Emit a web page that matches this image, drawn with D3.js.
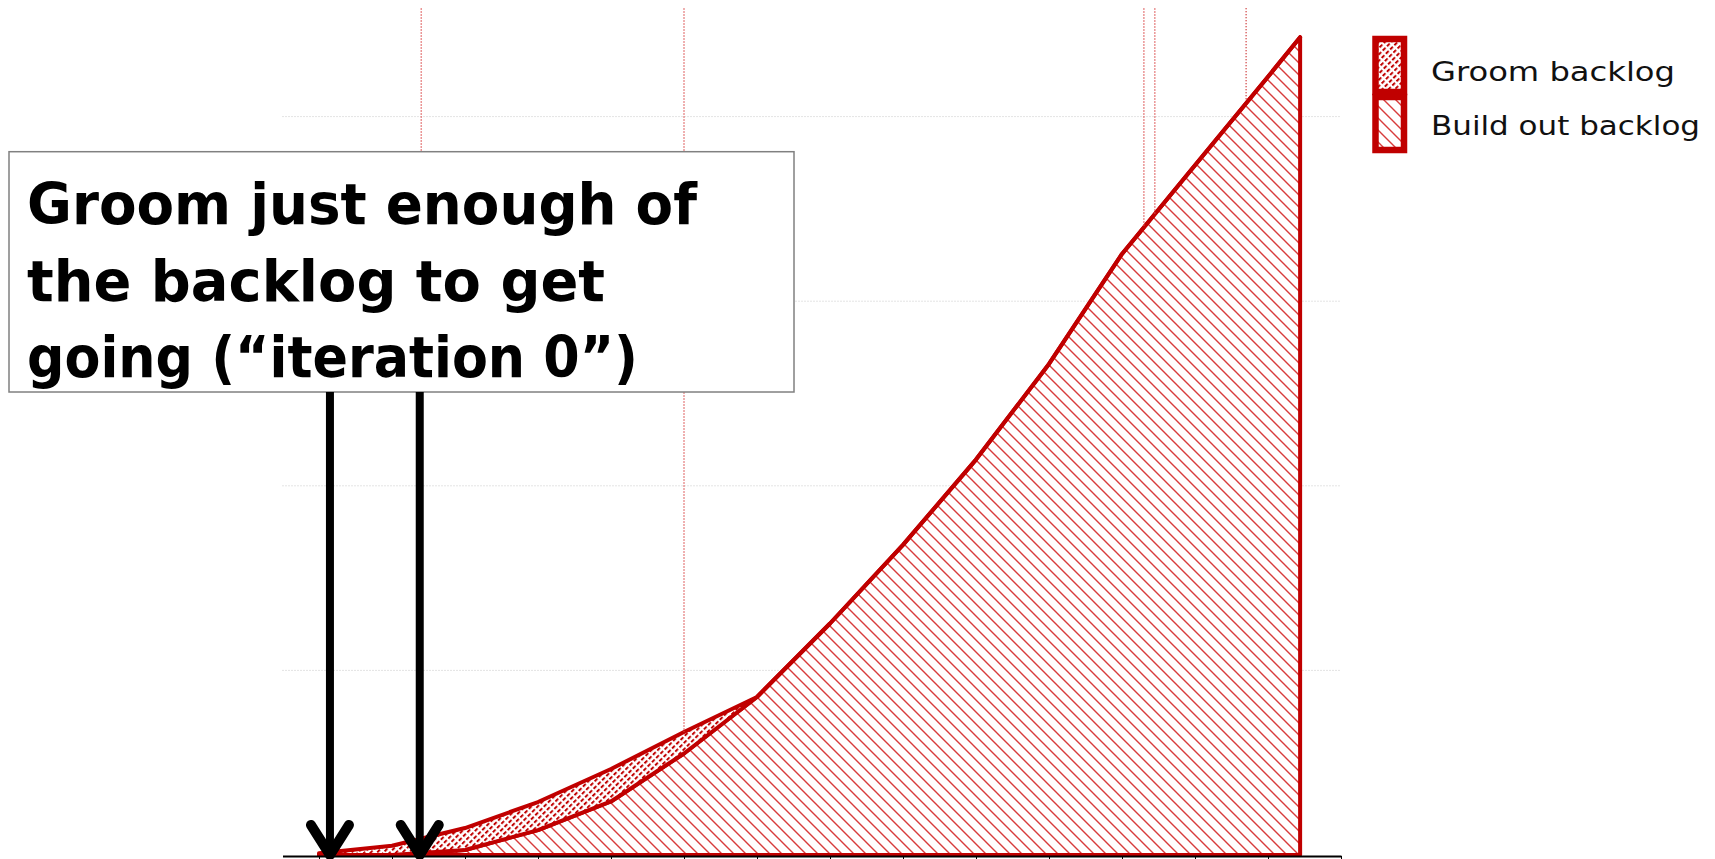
<!DOCTYPE html>
<html>
<head>
<meta charset="utf-8">
<script src="https://cdn.jsdelivr.net/npm/d3@7"></script>
<style>
body { margin: 0; background: #fff; }
svg { display: block; }
</style>
</head>
<body>
<svg width="1715" height="859"></svg>
<script>
// iteration of each point (the last one is a part iteration)
var iterations = [0, 1, 2, 3, 4, 5, 6, 7, 8, 9, 10, 11, 12, 13, 13.44];
var buildOut = [0, 0, 2.7, 13.5, 29, 55, 85.6, 125.4, 168, 214.2, 266, 325.6, 373.6, 421.6, 443];
var groom = [1, 5, 11.9, 15.2, 17.6, 11.6, 0, 0, 0, 0, 0, 0, 0, 0, 0];
var seriesNames = ["Groom backlog", "Build out backlog"];
var gridValues = [100, 200, 300, 400];
var tickIterations = [0, 1, 2, 3, 4, 5, 6, 7, 8, 9, 10, 11, 12, 13, 14];
var markerIterations = [1.4, 5, 11.3, 11.45, 12.7];
var markerTop = 458.7;
var arrowIterations = [0.15, 1.38];
var noteLines = ["Groom just enough of", "the backlog to get", "going (\u201citeration 0\u201d)"];

function main() {
    var svg = d3.select("svg");
    var red = "#c00000";

    var x = d3.scaleLinear().domain([-0.5, 14]).range([282.5, 1341]);
    var y = d3.scaleLinear().domain([0, 500]).range([855, -68]);

    var data = iterations.map(function(it, i) {
        return { it: it, build: buildOut[i], groom: groom[i] };
    });

    // patterns
    var defs = svg.append("defs");
    var pBuild = defs.append("pattern")
        .attr("id", "buildPat")
        .attr("patternUnits", "userSpaceOnUse")
        .attr("width", 12).attr("height", 12);
    pBuild.append("rect").attr("width", 12).attr("height", 12).attr("fill", "#fff");
    pBuild.append("path")
        .attr("d", "M0,0L12,12M-1,11L1,13M11,-1L13,1")
        .attr("stroke", "#d83c3c")
        .attr("stroke-width", 1.4);

    var pGroom = defs.append("pattern")
        .attr("id", "groomPat")
        .attr("patternUnits", "userSpaceOnUse")
        .attr("width", 6).attr("height", 4.5)
        .attr("patternTransform", "rotate(-45)");
    pGroom.append("rect").attr("width", 6).attr("height", 4.5).attr("fill", "#fff");
    pGroom.append("rect").attr("width", 3.8).attr("height", 2).attr("fill", red);

    // gridlines
    svg.append("g").selectAll("line")
        .data(gridValues)
        .enter().append("line")
        .attr("x1", x(-0.5)).attr("x2", x(14))
        .attr("y1", function(d) { return y(d); })
        .attr("y2", function(d) { return y(d); })
        .attr("stroke", "#c8c8c8")
        .attr("stroke-dasharray", "1,2");

    // stacked areas
    var stack = d3.stack().keys(["build", "groom"]);
    var layers = stack(data);
    var area = d3.area()
        .x(function(d) { return x(d.data.it); })
        .y0(function(d) { return y(d[0]); })
        .y1(function(d) { return y(d[1]); });

    svg.append("g").selectAll("path")
        .data(layers)
        .enter().append("path")
        .attr("d", area)
        .attr("fill", function(d) { return d.key == "build" ? "url(#buildPat)" : "url(#groomPat)"; })
        .attr("stroke", red)
        .attr("stroke-width", 4)
        .attr("stroke-linejoin", "round");

    // dotted markers from the top down to the curve
    var totals = data.map(function(d) { return d.build + d.groom; });
    function curveAt(v) {
        var i = d3.bisectRight(iterations, v) - 1;
        var t = (v - iterations[i]) / (iterations[i + 1] - iterations[i]);
        return totals[i] + t * (totals[i + 1] - totals[i]);
    }
    svg.append("g").selectAll("line")
        .data(markerIterations)
        .enter().append("line")
        .attr("x1", function(d) { return x(d); })
        .attr("x2", function(d) { return x(d); })
        .attr("y1", y(markerTop))
        .attr("y2", function(d) { return y(curveAt(d)); })
        .attr("stroke", function(d, i) { return i == 4 ? red : "#dc5050"; })
        .attr("stroke-width", 1.2)
        .attr("stroke-dasharray", function(d, i) { return i == 4 ? "1,2" : "1.5,1.5"; });

    // x axis
    var xAxis = svg.append("g")
        .attr("transform", "translate(0,856)")
        .call(d3.axisBottom(x).tickValues(tickIterations).tickFormat("").tickSize(5).tickSizeOuter(0));
    xAxis.select(".domain").attr("stroke", "#000").attr("stroke-width", 2);
    xAxis.selectAll(".tick line").attr("stroke", "#000");

    // note box
    var box = svg.append("g");
    box.append("rect")
        .attr("x", 9).attr("y", 151.7)
        .attr("width", 785).attr("height", 240.3)
        .attr("fill", "#fff")
        .attr("stroke", "#808080")
        .attr("stroke-width", 1.5);
    var lineWidths = [670, 578, 611];
    box.selectAll("text")
        .data(noteLines)
        .enter().append("text")
        .attr("x", 27)
        .attr("y", function(d, i) { return 224 + i * 76.5; })
        .attr("font-family", "DejaVu Sans")
        .attr("font-weight", "bold")
        .attr("font-size", "57px")
        .attr("textLength", function(d, i) { return lineWidths[i]; })
        .attr("lengthAdjust", "spacingAndGlyphs")
        .text(function(d) { return d; });

    // arrows
    var arrows = svg.append("g")
        .attr("stroke", "#000")
        .attr("fill", "none")
        .attr("stroke-linecap", "round")
        .attr("stroke-linejoin", "round");
    arrows.selectAll("line")
        .data(arrowIterations)
        .enter().append("line")
        .attr("x1", function(d) { return x(d); })
        .attr("x2", function(d) { return x(d); })
        .attr("y1", 392)
        .attr("y2", 855)
        .attr("stroke-width", 8)
        .attr("stroke-linecap", "butt");
    arrows.selectAll("path")
        .data(arrowIterations)
        .enter().append("path")
        .attr("stroke-width", 10)
        .attr("d", function(d) {
            var cx = x(d);
            return "M" + (cx - 19) + ",825L" + cx + ",855L" + (cx + 19) + ",825";
        });

    // legend
    var legend = svg.append("g");
    var legendWidths = [244, 269];
    legend.selectAll("rect")
        .data(seriesNames)
        .enter().append("rect")
        .attr("x", 1375.5)
        .attr("y", function(d, i) { return 39 + i * 58; })
        .attr("width", 28.5)
        .attr("height", 53)
        .attr("fill", function(d, i) { return i == 0 ? "url(#groomPat)" : "url(#buildPat)"; })
        .attr("stroke", red)
        .attr("stroke-width", 6.5);
    legend.selectAll("text")
        .data(seriesNames)
        .enter().append("text")
        .attr("x", 1431)
        .attr("y", function(d, i) { return 81 + i * 54; })
        .attr("font-family", "DejaVu Sans")
        .attr("font-size", "27px")
        .attr("fill", "#111")
        .attr("textLength", function(d, i) { return legendWidths[i]; })
        .attr("lengthAdjust", "spacingAndGlyphs")
        .text(function(d) { return d; });
}
main();
</script>
</body>
</html>
